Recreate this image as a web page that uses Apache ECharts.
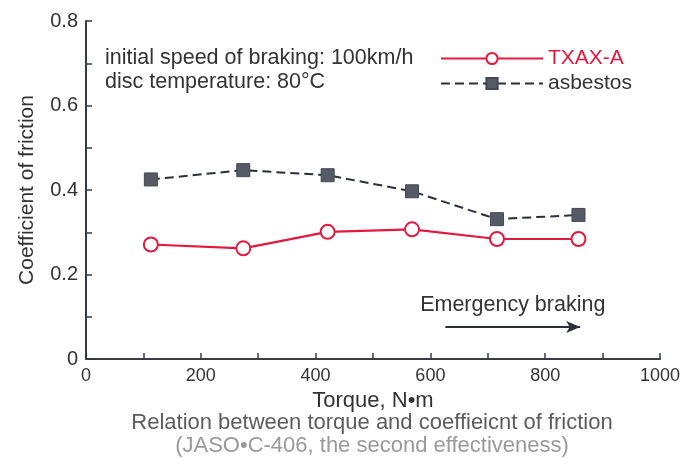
<!DOCTYPE html>
<html>
<head>
<meta charset="utf-8">
<script src="https://cdn.jsdelivr.net/npm/echarts@6/dist/echarts.min.js"></script>
<style>html,body{margin:0;padding:0;background:#fff;}#c{width:683px;height:459px;}</style>
</head>
<body>
<div id="c"></div>
<script>
const torque = [113, 274, 421, 568, 716, 858];
const txaxA = [0.271, 0.262, 0.301, 0.307, 0.284, 0.284];
const asbestos = [0.425, 0.447, 0.435, 0.397, 0.331, 0.341];
const yTicks = ['0', '0.2', '0.4', '0.6', '0.8'];
const xTicks = ['0', '200', '400', '600', '800', '1000'];

const FONT = '"Liberation Sans", Arial, sans-serif';
const RED = '#e3193f';
const DARK = '#2b2f3a';
const AXIS = '#363b47';

const chart = echarts.init(document.getElementById('c'), null, {renderer: 'canvas'});
chart.setOption({
  animation: false,
  backgroundColor: '#ffffff',
  textStyle: {fontFamily: FONT},
  grid: {left: 86, right: 20, top: 21, bottom: 100, containLabel: false},
  legend: {
    orient: 'vertical', left: 435, top: 43, itemWidth: 102, itemHeight: 14, itemGap: 4,
    textStyle: {fontSize: 21, fontFamily: FONT, lineHeight: 20},
    data: [
      {name: 'TXAX-A', textStyle: {color: RED}},
      {name: 'asbestos', textStyle: {color: '#333'}}
    ]
  },
  xAxis: {
    type: 'value', min: 0, max: 1000, interval: 100,
    name: 'Torque, N\u2022m', nameLocation: 'middle', nameGap: 26,
    nameTextStyle: {fontSize: 22, color: '#333', fontFamily: FONT},
    axisLine: {show: true, lineStyle: {color: AXIS, width: 2}},
    axisTick: {show: true, inside: true, length: 6, lineStyle: {color: AXIS, width: 1.5}},
    axisLabel: {fontSize: 18, color: '#333', margin: 8, fontFamily: FONT,
      formatter: v => (Math.round(v / 100) % 2 === 0 ? xTicks[Math.round(v / 200)] : '')},
    splitLine: {show: false}
  },
  yAxis: {
    type: 'value', min: 0, max: 0.8, interval: 0.1,
    name: 'Coefficient of friction', nameLocation: 'middle', nameGap: 48, nameRotate: 90,
    nameTextStyle: {fontSize: 21, color: '#333', fontFamily: FONT},
    axisLine: {show: true, lineStyle: {color: AXIS, width: 2}},
    axisTick: {show: true, inside: true, length: 6, lineStyle: {color: AXIS, width: 1.5}},
    axisLabel: {fontSize: 20, color: '#333', margin: 8, fontFamily: FONT,
      formatter: v => (Math.round(v * 10) % 2 === 0 ? yTicks[Math.round(v * 5)] : '')},
    splitLine: {show: false}
  },
  series: [
    {
      name: 'TXAX-A', type: 'line',
      data: torque.map((t, i) => [t, txaxA[i]]),
      symbol: 'circle', symbolSize: 14,
      itemStyle: {color: '#fff', borderColor: RED, borderWidth: 2},
      lineStyle: {color: RED, width: 2.2},
      z: 3
    },
    {
      name: 'asbestos', type: 'line',
      data: torque.map((t, i) => [t, asbestos[i]]),
      symbol: 'rect', symbolSize: 13,
      itemStyle: {color: '#555a66', borderColor: '#444855', borderWidth: 1},
      lineStyle: {color: DARK, width: 2, type: [9, 5]},
      z: 2,
      markLine: {
        silent: true, symbol: ['none', 'arrow'], symbolSize: [9, 14],
        lineStyle: {color: DARK, width: 2, type: 'solid'},
        label: {show: true, position: 'insideMiddleTop', distance: 11, formatter: 'Emergency braking',
          fontSize: 21.5, color: '#333', fontFamily: FONT},
        data: [[{coord: [626, 0.076]}, {coord: [861, 0.076]}]]
      }
    }
  ],
  graphic: [
    {type: 'text', left: 105, top: 46, style: {text: 'initial speed of braking: 100km/h\ndisc temperature: 80\u00b0C',
      font: '21.5px ' + FONT, fill: '#333', lineHeight: 24}},
    {type: 'text', x: 372, y: 423, style: {text: 'Relation between torque and coeffieicnt of friction',
      font: '22px ' + FONT, fill: '#5c5c5c', align: 'center', verticalAlign: 'middle'}},
    {type: 'text', x: 372, y: 446, style: {text: '(JASO\u2022C-406, the second effectiveness)',
      font: '22px ' + FONT, fill: '#9a9a9a', align: 'center', verticalAlign: 'middle'}}
  ]
});
</script>
</body>
</html>
